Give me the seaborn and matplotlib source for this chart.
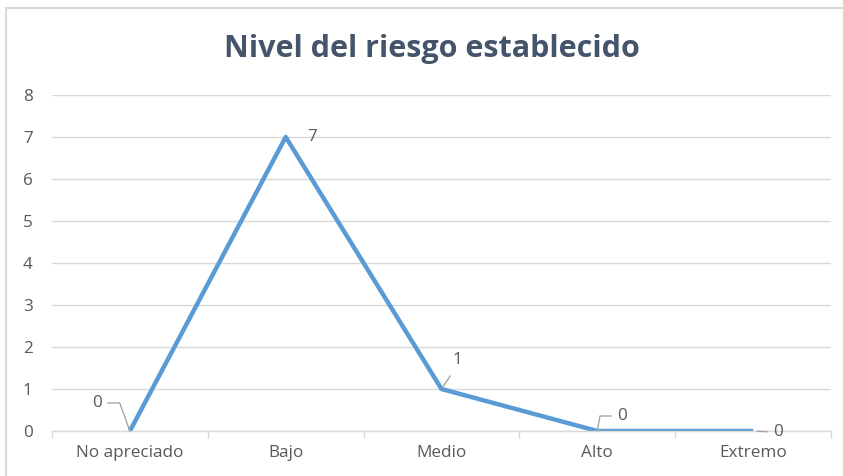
import numpy as np
import pandas as pd
import matplotlib
matplotlib.use("Agg")
import matplotlib.pyplot as plt
from matplotlib.patches import Rectangle
import seaborn as sb

categories = ["No apreciado", "Bajo", "Medio", "Alto", "Extremo"]
values = [0, 7, 1, 0, 0]
title = "Nivel del riesgo establecido"

# label offsets (pixels) per point
label_offsets = [(-33, 28), (26, 0), (16, 29), (25, 15), (25, -1)]

sb.set_theme(style="white")
plt.rcParams["font.family"] = ["Open Sans", "DejaVu Sans"]

grey_txt = "#595959"
grid_col = "#D9D9D9"
line_col = "#5B9BD5"
fs = 12.3

data = pd.DataFrame({"nivel": categories, "valor": values})

fig = plt.figure(figsize=(8.43, 4.76), dpi=100)
ax = fig.add_axes([52 / 843, 1 - 431 / 476, (831 - 52) / 843, (431 - 95) / 476])

sb.lineplot(data=data, x="nivel", y="valor", ax=ax, color=line_col,
            linewidth=3.2, sort=False, solid_capstyle="butt")

ax.set_xlim(-0.5, 4.5)
ax.set_ylim(0, 8)
ax.set_yticks(range(0, 9))
ax.set_xticks(range(len(categories)))
ax.set_xticklabels(categories)
ax.set_xticks(np.arange(-0.5, 5, 1), minor=True)
ax.tick_params(axis="x", which="major", length=0, pad=10, labelsize=fs, labelcolor=grey_txt)
ax.tick_params(axis="x", which="minor", length=5, width=1, color=grid_col, direction="out", bottom=True)
ax.tick_params(axis="y", length=0, pad=21, labelsize=fs, labelcolor=grey_txt)
for lab in ax.get_yticklabels():
    lab.set_horizontalalignment("left")
ax.set_xlabel("")
ax.set_ylabel("")
ax.yaxis.grid(True, color=grid_col, linewidth=1)
ax.set_axisbelow(True)
for side in ["left", "right", "top"]:
    ax.spines[side].set_visible(False)
ax.spines["bottom"].set_color(grid_col)
ax.spines["bottom"].set_linewidth(1)

# data labels
ldr = dict(arrowstyle="-", color="#A6A6A6", linewidth=1, shrinkA=2, shrinkB=0)
ax.annotate(str(values[0]), (0, values[0]), xytext=label_offsets[0], textcoords="offset pixels",
            ha="center", va="center", fontsize=fs, color=grey_txt,
            arrowprops=dict(ldr, connectionstyle="angle,angleA=0,angleB=110,rad=0", relpos=(1, 0.5)))
ax.annotate(str(values[1]), (1, values[1]), xytext=label_offsets[1], textcoords="offset pixels",
            ha="center", va="center", fontsize=fs, color=grey_txt)
ax.annotate(str(values[2]), (2, values[2]), xytext=label_offsets[2], textcoords="offset pixels",
            ha="center", va="center", fontsize=fs, color=grey_txt,
            arrowprops=dict(ldr, relpos=(0.3, 0), shrinkA=4, shrinkB=2))
ax.annotate(str(values[3]), (3, values[3]), xytext=label_offsets[3], textcoords="offset pixels",
            ha="center", va="center", fontsize=fs, color=grey_txt,
            arrowprops=dict(ldr, connectionstyle="angle,angleA=0,angleB=80,rad=0", relpos=(0, 0.5)))
ax.annotate(str(values[4]), (4, values[4]), xytext=label_offsets[4], textcoords="offset pixels",
            ha="center", va="center", fontsize=fs, color=grey_txt,
            arrowprops=dict(ldr, relpos=(0, 0.5), shrinkB=3))

fig.text(432 / 843, 1 - 49 / 476, title, ha="center", va="center",
         fontsize=22, fontweight="bold", color="#44546A")

frame = Rectangle((6 / 843, -0.1), 1.1, 1 - 8 / 476 + 0.1, transform=fig.transFigure,
                  fill=False, edgecolor=grid_col, linewidth=1.5, clip_on=False)
fig.patches.append(frame)

fig.savefig("out.png", dpi=100)
